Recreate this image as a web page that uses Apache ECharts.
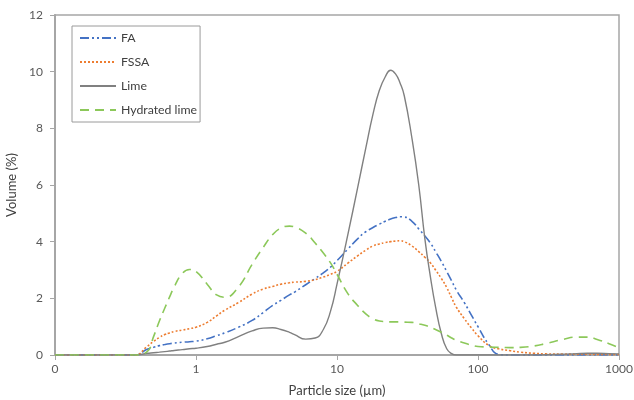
<!DOCTYPE html>
<html>
<head>
<meta charset="utf-8">
<script src="https://cdn.jsdelivr.net/npm/echarts@6/dist/echarts.min.js"></script>
<style>
  html, body { margin: 0; padding: 0; background: #fff; }
  #chart { width: 634px; height: 400px; }
</style>
</head>
<body>
<div id="chart"></div>
<script>
// Particle size classes (µm)
const sizes = [0.1, 0.2, 0.3, 0.37, 0.45, 0.5, 0.55, 0.6, 0.65, 0.7, 0.8, 0.9, 1.0, 1.2, 1.4, 1.6, 2.0, 2.5, 3.0, 3.5, 4.0, 4.6, 5.0, 6.0, 7.0, 8.0, 9.0, 10, 12, 14, 16, 18, 20, 22, 24, 26, 28, 30, 34, 38, 42, 46, 50, 55, 60, 65, 70, 80, 90, 100, 120, 140, 170, 200, 250, 300, 400, 500, 600, 700, 850, 1000];

// Volume fractions (%) for each material
const fa = [0, 0, 0, 0, 0.2, 0.27, 0.33, 0.37, 0.4, 0.42, 0.45, 0.47, 0.49, 0.57, 0.68, 0.78, 0.98, 1.22, 1.5, 1.75, 1.93, 2.12, 2.22, 2.48, 2.7, 2.9, 3.1, 3.33, 3.75, 4.1, 4.35, 4.5, 4.62, 4.72, 4.8, 4.85, 4.88, 4.87, 4.72, 4.45, 4.2, 3.95, 3.65, 3.3, 2.95, 2.62, 2.3, 1.85, 1.4, 1.0, 0.35, 0.02, 0, 0, 0, 0, 0, 0, 0, 0, 0, 0];
const fssa = [0, 0, 0, 0, 0.3, 0.48, 0.62, 0.72, 0.78, 0.83, 0.88, 0.93, 0.98, 1.15, 1.38, 1.58, 1.85, 2.15, 2.33, 2.42, 2.5, 2.55, 2.57, 2.6, 2.66, 2.75, 2.85, 2.95, 3.25, 3.5, 3.7, 3.85, 3.92, 3.97, 4.0, 4.02, 4.03, 4.0, 3.85, 3.65, 3.45, 3.25, 3.0, 2.7, 2.38, 2.02, 1.7, 1.28, 0.95, 0.68, 0.33, 0.22, 0.15, 0.1, 0.06, 0.04, 0.03, 0.03, 0.03, 0.02, 0.02, 0.02];
const lime = [0, 0, 0, 0, 0.06, 0.08, 0.1, 0.12, 0.14, 0.16, 0.19, 0.22, 0.24, 0.3, 0.38, 0.45, 0.65, 0.85, 0.95, 0.96, 0.9, 0.8, 0.72, 0.56, 0.6, 0.9, 1.55, 2.5, 4.3, 5.9, 7.3, 8.5, 9.35, 9.82, 10.05, 9.92, 9.6, 9.15, 7.65, 6.0, 4.1, 2.75, 1.7, 0.75, 0.22, 0.05, 0, 0, 0, 0, 0, 0, 0, 0, 0, 0.01, 0.03, 0.05, 0.06, 0.06, 0.05, 0.04];
const hydratedLime = [0, 0, 0, 0, 0.12, 0.65, 1.2, 1.65, 2.05, 2.4, 2.88, 3.02, 2.95, 2.5, 2.12, 2.04, 2.4, 3.2, 3.8, 4.25, 4.48, 4.55, 4.52, 4.3, 3.95, 3.6, 3.25, 2.85, 2.15, 1.75, 1.45, 1.28, 1.2, 1.18, 1.17, 1.17, 1.17, 1.16, 1.15, 1.1, 1.05, 0.98, 0.9, 0.8, 0.7, 0.6, 0.52, 0.42, 0.35, 0.3, 0.28, 0.27, 0.26, 0.27, 0.32, 0.4, 0.55, 0.63, 0.63, 0.55, 0.4, 0.25];

const xTicks = [0.1, 1, 10, 100, 1000];
const yMin = 0, yMax = 12, yStep = 2;

const pairs = vals => sizes.map((s, i) => [s, vals[i]]);
const font = 'Lato, "Open Sans", sans-serif';

function lineSeries(name, vals, color, type, width) {
  return {
    name: name,
    type: 'line',
    data: pairs(vals),
    smooth: 0.5,
    showSymbol: false,
    symbol: 'none',
    lineStyle: { color: color, width: width, type: type },
    itemStyle: { color: color }
  };
}

const chart = echarts.init(document.getElementById('chart'), null, { renderer: 'canvas' });
chart.setOption({
  animation: false,
  backgroundColor: '#ffffff',
  grid: {
    left: 55, right: 15, top: 15, bottom: 45,
    outerBoundsMode: 'none',
    containLabel: false,
    show: true, borderColor: '#a6a6a6', borderWidth: 1.5
  },
  legend: {
    orient: 'vertical',
    left: 72, top: 26,
    padding: [5, 3, 5, 7],
    itemWidth: 36, itemHeight: 14, itemGap: 10,
    borderColor: '#9a9a9a', borderWidth: 1,
    backgroundColor: '#ffffff',
    itemStyle: { opacity: 0 },
    textStyle: { fontFamily: font, fontSize: 12.3, color: '#404040', lineHeight: 14 },
    data: ['FA', 'FSSA', 'Lime', 'Hydrated lime']
  },
  xAxis: {
    type: 'log',
    logBase: 10,
    min: xTicks[0],
    max: xTicks[xTicks.length - 1],
    name: 'Particle size (µm)',
    nameLocation: 'middle',
    nameGap: 29,
    nameTextStyle: { fontFamily: font, fontSize: 13, color: '#404040' },
    axisLine: { show: true, lineStyle: { color: '#a6a6a6', width: 2 } },
    axisTick: { show: true, length: 5, lineStyle: { color: '#a6a6a6', width: 1 } },
    minorTick: { show: false },
    splitLine: { show: false },
    axisLabel: {
      margin: 8,
      fontFamily: font, fontSize: 12, color: '#595959',
      formatter: v => (v < 1 ? '0' : String(Math.round(v)))
    }
  },
  yAxis: {
    type: 'value',
    min: yMin, max: yMax, interval: yStep,
    name: 'Volume (%)',
    nameLocation: 'middle',
    nameGap: 35,
    nameTextStyle: { fontFamily: font, fontSize: 13, color: '#404040' },
    axisLine: { show: true, lineStyle: { color: '#a6a6a6', width: 2 } },
    axisTick: { show: true, length: 5, lineStyle: { color: '#a6a6a6', width: 1 } },
    splitLine: { show: false },
    axisLabel: { margin: 12, fontFamily: font, fontSize: 12, color: '#595959' }
  },
  series: [
    lineSeries('FA', fa, '#4472c4', [9, 3, 2, 3, 2, 3], 1.6),
    lineSeries('FSSA', fssa, '#ed7d31', [2, 2], 1.6),
    lineSeries('Lime', lime, '#808080', 'solid', 1.4),
    lineSeries('Hydrated lime', hydratedLime, '#8cc85a', [9, 6], 1.6)
  ]
});
</script>
</body>
</html>
